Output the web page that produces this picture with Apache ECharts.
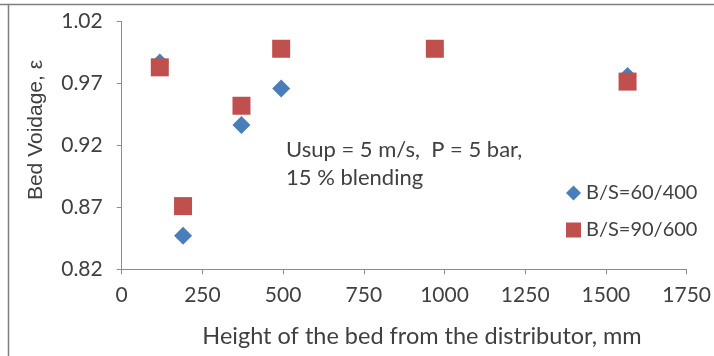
<!DOCTYPE html>
<html>
<head>
<meta charset="utf-8">
<script src="https://cdn.jsdelivr.net/npm/echarts@6/dist/echarts.min.js"></script>
<style>
  html, body { margin: 0; padding: 0; background: #fff; }
  #chart { width: 714px; height: 356px; }
</style>
</head>
<body>
<div id="chart"></div>
<script>
// data
var heights6040 = [118, 190, 371, 494, 970, 1567];
var voidage6040 = [0.987, 0.847, 0.9365, 0.966, 0.998, 0.976];
var heights9060 = [118, 190, 371, 494, 970, 1567];
var voidage9060 = [0.983, 0.871, 0.952, 0.998, 0.998, 0.9715];
var seriesNames = ['B/S=60/400', 'B/S=90/600'];
var xTicks = [0, 250, 500, 750, 1000, 1250, 1500, 1750];
var yTicks = [0.82, 0.87, 0.92, 0.97, 1.02];

function pairs(xs, ys) {
	var out = [];
	for (var i = 0; i < xs.length; i++) out.push([xs[i], ys[i]]);
	return out;
}

var font = 'Lato, "Open Sans", sans-serif';
var textCol = '#404040';
var axisCol = '#8c8c8c';

var chart = echarts.init(document.getElementById('chart'));
var option = {
	animation: false,
	textStyle: { fontFamily: font },
	grid: { left: 121.7, right: 714 - 688.5, top: 21.5, bottom: 356 - 269.3, containLabel: false },
	legend: {
		orient: 'vertical',
		left: 561,
		top: 178,
		itemGap: 17,
		itemWidth: 15,
		itemHeight: 15,
		textStyle: { fontSize: 20, color: textCol, fontFamily: font },
		data: [
			{ name: seriesNames[0], icon: 'diamond' },
			{ name: seriesNames[1], icon: 'rect' }
		]
	},
	xAxis: {
		type: 'value',
		min: xTicks[0],
		max: xTicks[xTicks.length - 1],
		interval: 250,
		axisLine: { show: true, lineStyle: { color: axisCol, width: 1 } },
		axisTick: { show: true, length: 5, inside: false, lineStyle: { color: axisCol } },
		axisLabel: {
			fontSize: 21, color: textCol, margin: 15, fontFamily: font,
			formatter: function (v) { return String(v); }
		},
		splitLine: { show: false }
	},
	yAxis: {
		type: 'value',
		min: yTicks[0],
		max: yTicks[yTicks.length - 1],
		interval: 0.05,
		axisLine: { show: true, lineStyle: { color: axisCol, width: 1 } },
		axisTick: { show: true, length: 5, inside: false, lineStyle: { color: axisCol } },
		axisLabel: {
			fontSize: 21, color: textCol, margin: 19, fontFamily: font,
			formatter: function (v) { return v.toFixed(2); }
		},
		splitLine: { show: false }
	},
	series: [
		{
			name: seriesNames[0],
			type: 'scatter',
			symbol: 'diamond',
			symbolSize: [18, 18],
			itemStyle: { color: '#4a7ebb', opacity: 1 },
			data: pairs(heights6040, voidage6040),
			z: 2
		},
		{
			name: seriesNames[1],
			type: 'scatter',
			symbol: 'rect',
			symbolSize: 18,
			itemStyle: { color: '#c0504d', opacity: 1 },
			data: pairs(heights9060, voidage9060),
			z: 3
		}
	],
	graphic: [
		{ type: 'line', shape: { x1: 0, y1: 4.5, x2: 714, y2: 4.5 }, style: { stroke: '#7f7f7f', lineWidth: 1.5 } },
		{ type: 'line', shape: { x1: 8.5, y1: 4, x2: 8.5, y2: 356 }, style: { stroke: '#7f7f7f', lineWidth: 1.5 } },
		{
			type: 'text',
			style: {
				x: 286, y: 136, text: 'Usup = 5 m/s,  P = 5 bar,\n15 % blending',
				font: '22px ' + font, fill: textCol, lineHeight: 28, textVerticalAlign: 'top'
			}
		},
		{
			type: 'text',
			style: {
				x: 422, y: 336, text: 'Height of the bed from the distributor, mm',
				font: '23.5px ' + font, fill: textCol, textAlign: 'center', textVerticalAlign: 'middle'
			}
		},
		{
			type: 'text',
			x: 36.5, y: 130, rotation: Math.PI / 2,
			style: {
				x: 0, y: 0, text: 'Bed Voidage, ε',
				font: '21px "Liberation Sans", Arial, sans-serif', fill: textCol, textAlign: 'center', textVerticalAlign: 'middle'
			}
		}
	]
};
chart.setOption(option);
</script>
</body>
</html>
